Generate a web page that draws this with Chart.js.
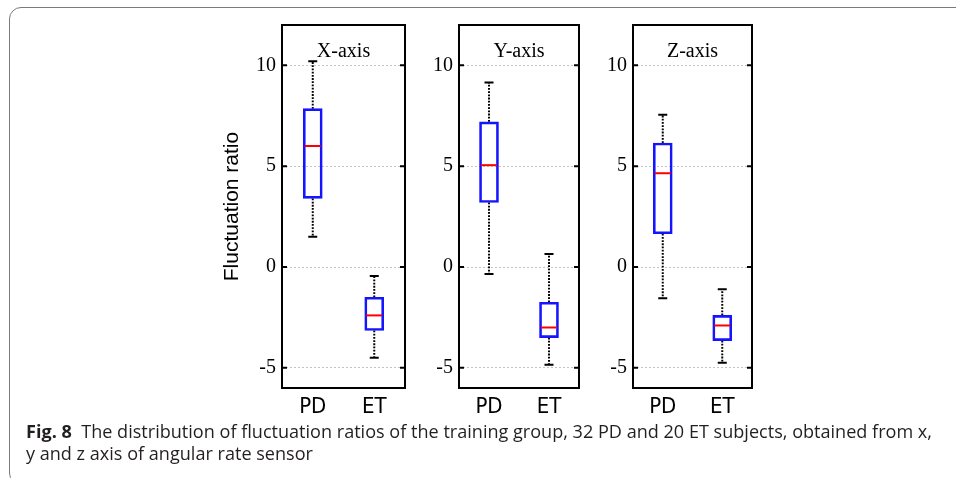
<!DOCTYPE html>
<html>
<head>
<meta charset="utf-8">
<script src="https://cdn.jsdelivr.net/npm/chart.js@4.4.1/dist/chart.umd.min.js"></script>
<style>
  html, body { margin: 0; padding: 0; background: #fff; }
  #wrap { position: relative; width: 956px; height: 478px; overflow: hidden; }
  #frame { position: absolute; left: 9px; top: 7px; width: 1000px; height: 478px;
           border: 1.5px solid #7a7a7a; border-radius: 12px; box-sizing: border-box; }
  canvas { position: absolute; top: 0; }
  #caption { position: absolute; left: 26px; top: 421px; font-family: "Open Sans", sans-serif;
             font-size: 17.5px; line-height: 21.5px; color: #231f20; white-space: nowrap;
             transform-origin: 0 0; }
  #caption b { font-weight: 700; }
</style>
</head>
<body>
<div id="wrap">
  <div id="frame"></div>
  <canvas id="cx" width="209" height="440" style="left:200px"></canvas>
  <canvas id="cy" width="174" height="440" style="left:409px"></canvas>
  <canvas id="cz" width="173" height="440" style="left:583px"></canvas>
  <div id="caption">
    <div id="line1"><b>Fig. 8</b>&nbsp; The distribution of fluctuation ratios of the training group, 32 PD and 20 ET subjects, obtained from x,</div>
    <div>y and z axis of angular rate sensor</div>
  </div>
</div>
<script>
// groups and axis ticks
const groups = ['PD', 'ET'];
const panelTitles = ['X-axis', 'Y-axis', 'Z-axis'];
const yTicks = [-5, 0, 5, 10];

// box plot stats (PD, ET)
const xMin = [1.5, -4.5];
const xQ1 = [3.4, -3.15];
const xMedian = [6.0, -2.4];
const xQ3 = [7.85, -1.5];
const xMax = [10.2, -0.45];

const yMin = [-0.35, -4.85];
const yQ1 = [3.2, -3.5];
const yMedian = [5.05, -3.0];
const yQ3 = [7.2, -1.75];
const yMax = [9.15, 0.65];

const zMin = [-1.55, -4.75];
const zQ1 = [1.65, -3.65];
const zMedian = [4.65, -2.9];
const zQ3 = [6.15, -2.4];
const zMax = [7.55, -1.1];

const SERIF = "'Liberation Serif', 'Times New Roman', serif";
const NARROW = "'Liberation Sans Narrow', 'DejaVu Sans Condensed', 'Liberation Sans', sans-serif";

// whiskers, medians, frame and title drawn through the chart's scales
function makeBoxPlugin(st, title) {
  return {
    id: 'boxPlot',
    beforeDatasetsDraw(chart) {
      const { ctx, scales: { x, y } } = chart;
      ctx.save();
      ctx.strokeStyle = '#000';
      groups.forEach((g, i) => {
        const px = x.getPixelForValue(i);
        ctx.lineWidth = 2;
        ctx.setLineDash([1.8, 1.4]);
        ctx.beginPath();
        ctx.moveTo(px, y.getPixelForValue(st.q3[i]));
        ctx.lineTo(px, y.getPixelForValue(st.max[i]));
        ctx.moveTo(px, y.getPixelForValue(st.q1[i]));
        ctx.lineTo(px, y.getPixelForValue(st.min[i]));
        ctx.stroke();
        ctx.setLineDash([]);
        ctx.beginPath();
        [st.max[i], st.min[i]].forEach(v => {
          const py = y.getPixelForValue(v);
          ctx.moveTo(px - 4.5, py);
          ctx.lineTo(px + 4.5, py);
        });
        ctx.stroke();
      });
      ctx.restore();
    },
    afterDatasetsDraw(chart) {
      const { ctx, scales: { x, y } } = chart;
      ctx.save();
      ctx.strokeStyle = '#ff0000';
      ctx.lineWidth = 2;
      groups.forEach((g, i) => {
        const px = x.getPixelForValue(i);
        const py = y.getPixelForValue(st.median[i]);
        ctx.beginPath();
        ctx.moveTo(px - 8, py);
        ctx.lineTo(px + 8, py);
        ctx.stroke();
      });
      ctx.restore();
    },
    afterDraw(chart) {
      const { ctx, chartArea: a, scales: { y } } = chart;
      ctx.save();
      ctx.strokeStyle = '#000';
      ctx.lineWidth = 2;
      ctx.strokeRect(a.left, a.top, a.right - a.left, a.bottom - a.top);
      ctx.beginPath();
      yTicks.forEach(v => {
        const py = y.getPixelForValue(v);
        ctx.moveTo(a.left, py); ctx.lineTo(a.left + 5, py);
        ctx.moveTo(a.right - 5, py); ctx.lineTo(a.right, py);
      });
      ctx.stroke();
      ctx.fillStyle = '#000';
      ctx.font = '20px ' + SERIF;
      ctx.textAlign = 'center';
      ctx.textBaseline = 'alphabetic';
      ctx.fillText(title, (a.left + a.right) / 2, a.top + 32);
      ctx.restore();
    }
  };
}

function makePanel(canvasId, yWidth, title, st, showYTitle) {
  const ctx = document.getElementById(canvasId).getContext('2d');
  return new Chart(ctx, {
    type: 'bar',
    data: {
      labels: groups,
      datasets: [{
        data: groups.map((g, i) => [st.q1[i], st.q3[i]]),
        backgroundColor: 'rgba(255,255,255,0)',
        borderColor: '#1414ff',
        borderWidth: 2,
        borderSkipped: false,
        barThickness: 19
      }]
    },
    options: {
      responsive: false,
      animation: false,
      layout: { padding: { top: 25, right: 4, left: 0, bottom: 0 } },
      plugins: { legend: { display: false }, tooltip: { enabled: false } },
      scales: {
        x: {
          type: 'category',
          offset: true,
          grid: { display: false, drawTicks: false },
          border: { display: false },
          ticks: { color: '#000', font: { family: NARROW, size: 22 }, padding: 6 },
          afterFit: s => { s.height = 52; }
        },
        y: {
          min: -6,
          max: 12,
          afterBuildTicks: s => { s.ticks = yTicks.map(v => ({ value: v })); },
          grid: { color: '#c4c4c4', lineWidth: 1, drawTicks: false },
          border: { display: false, dash: [2, 2] },
          ticks: { color: '#000', font: { family: SERIF, size: 20 }, padding: 6 },
          title: {
            display: showYTitle,
            text: 'Fluctuation ratio',
            color: '#000',
            font: { family: "'Liberation Sans', Arial, sans-serif", size: 21 },
            padding: { top: 20, bottom: 0 }
          },
          afterFit: s => { s.width = yWidth; }
        }
      }
    },
    plugins: [makeBoxPlugin(st, title)]
  });
}

makePanel('cx', 82, panelTitles[0], { min: xMin, q1: xQ1, median: xMedian, q3: xQ3, max: xMax }, true);
makePanel('cy', 50, panelTitles[1], { min: yMin, q1: yQ1, median: yMedian, q3: yQ3, max: yMax }, false);
makePanel('cz', 50, panelTitles[2], { min: zMin, q1: zQ1, median: zMedian, q3: zQ3, max: zMax }, false);

// squeeze caption to the measured line width
const line1 = document.getElementById('line1');
const range = document.createRange();
range.selectNodeContents(line1);
const tw = range.getBoundingClientRect().width;
document.getElementById('caption').style.transform = 'scaleX(' + (906 / tw) + ')';
</script>
</body>
</html>
